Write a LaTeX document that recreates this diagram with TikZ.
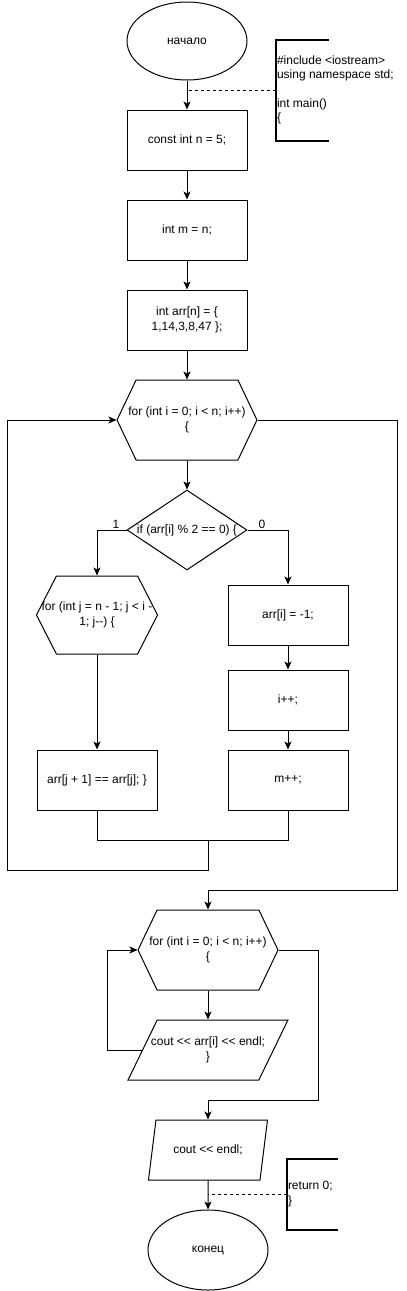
\documentclass[tikz,border=0pt]{standalone}
\usepackage{fontspec}
\setmainfont{Liberation Sans}
\usetikzlibrary{shapes.geometric,shapes.symbols,arrows.meta,positioning}

\tikzstyle{startstop} = [ellipse, minimum width=120pt, minimum height=80pt, draw=black]
\tikzstyle{process} = [rectangle, minimum width=120pt, minimum height=60pt, align=center, draw=black]
\tikzstyle{forloop} = [signal, signal to=east and west, signal pointer angle=129, minimum width=140pt, minimum height=80pt, draw=black]
\tikzstyle{decision} = [diamond, minimum width=120pt, minimum height=80pt, inner sep=0pt, draw=black]
\tikzstyle{io} = [trapezium, trapezium stretches=true, trapezium left angle=72, trapezium right angle=108, minimum width=120pt, minimum height=60pt, align=center, draw=black]
\tikzstyle{comment} = [rectangle, minimum width=52pt, minimum height=100pt]
\tikzstyle{bracket} = [line width=2pt]
\tikzstyle{arrow} = [->,>={Stealth[length=8pt,width=7pt,inset=2pt]}]

\begin{document}
\begin{tikzpicture}[x=1pt, y=1pt, node distance=90pt, line width=1pt, font=\fontsize{12pt}{14.4pt}\selectfont]
  \useasboundingbox (0,0) rectangle (407,-1291);

  \node (start) [startstop, minimum height=78pt] at (187,-41) {начало};
  \node (c1) [process, below of=start, yshift=-9pt] {const int n = 5;};
  \node (c2) [process, below of=c1] {int m = n;};
  \node (c3) [process, below of=c2] {int arr[n] = \{\\1,14,3,8,47 \};};
  \node (loop1) [forloop, below of=c3, yshift=-10pt, label={[align=center]center:{for (int i = 0; i < n; i++)\\\{}}] {};
  \node (cond) [decision, below of=loop1, yshift=-20pt, label={center:{if (arr[i] \% 2 == 0) \{}}] {};
  \node (inner) [forloop, signal pointer angle=126, minimum width=121pt, minimum height=78pt, below of=cond, xshift=-90pt, yshift=5pt, label={[align=center]center:{for (int j = n - 1; j < i -\\1; j-\kern0pt-) \{}}] {};
  \node (swap) [process, below of=inner, yshift=-75pt] {arr[j + 1] == arr[j]; \}};
  \node (neg) [process, below of=cond, xshift=101pt, yshift=5pt] {arr[i] = -1;};
  \node (inc) [process, below of=neg, yshift=5pt] {i++;};
  \node (mm) [process, below of=inc, yshift=10pt] {m++;};
  \node (loop2) [forloop, label={[align=center]center:{for (int i = 0; i < n; i++)\\\{}}] at (208,-950) {};
  \node (out1) [io, minimum width=160pt, trapezium left angle=74, trapezium right angle=106, below of=loop2, yshift=-10pt, label={[align=center]center:{cout <\kern0pt< arr[i] <\kern0pt< endl;\\\}}}] {};
  \node (out2) [io, below of=out1, yshift=-10pt] {cout <\kern0pt< endl;};
  \node (stop) [startstop, below of=out2, yshift=-10pt] {конец};

  % comments
  \node (note1) [comment] at (302,-90) {};
  \node (code1) [anchor=west, align=left, inner sep=1pt] at (note1.west) {\#include <iostream>\\using namespace std;\\[14.4pt]int main()\\\{};
  \node (note2) [comment, minimum width=50pt, minimum height=70pt] at (312,-1194) {};
  \node (code2) [anchor=west, align=left, inner sep=1pt] at (note2.west) {return 0;\\\}};
  \draw [bracket] (note1.north east) -- (note1.north west) -- (note1.south west) -- (note1.south east);
  \draw [bracket] (note2.north east) -- (note2.north west) -- (note2.south west) -- (note2.south east);

  \coordinate (join) at (208,-840);
  \coordinate (back) at (7,-870);
  \coordinate (exit1) at (397,-890);
  \coordinate (back2) at (107,-1050);
  \coordinate (exit2) at (318,-1100);

  \draw [arrow] (start) -- (c1);
  \draw [dashed] (note1.west) -- (note1.west -| start);
  \draw [arrow] (c1) -- (c2);
  \draw [arrow] (c2) -- (c3);
  \draw [arrow] (c3) -- (loop1);
  \draw [arrow] (loop1) -- (cond);
  \draw [arrow] (cond.west) -| node[above, pos=0.18, inner sep=1pt] {1} (inner.north);
  \draw [arrow] (cond.east) -| node[above, pos=0.18, inner sep=1pt] {0} (neg.north);
  \draw [arrow] (inner) -- (swap);
  \draw [arrow] (neg) -- (inc);
  \draw [arrow] (inc) -- (mm);
  \draw (swap.south) |- (join) -| (mm.south);
  \draw [arrow] (join) |- (back) |- (loop1.west);
  \draw [arrow] (loop1.east) -| (exit1) -| (loop2.north);
  \draw [arrow] (loop2) -- (out1);
  \draw [arrow] (out1.west) -- (back2) |- (loop2.west);
  \draw [arrow] (loop2.east) -| (exit2) -| (out2.north);
  \draw [arrow] (out2) -- (stop);
  \draw [dashed] (note2.west) -- (note2.west -| out2);
\end{tikzpicture}
\end{document}
